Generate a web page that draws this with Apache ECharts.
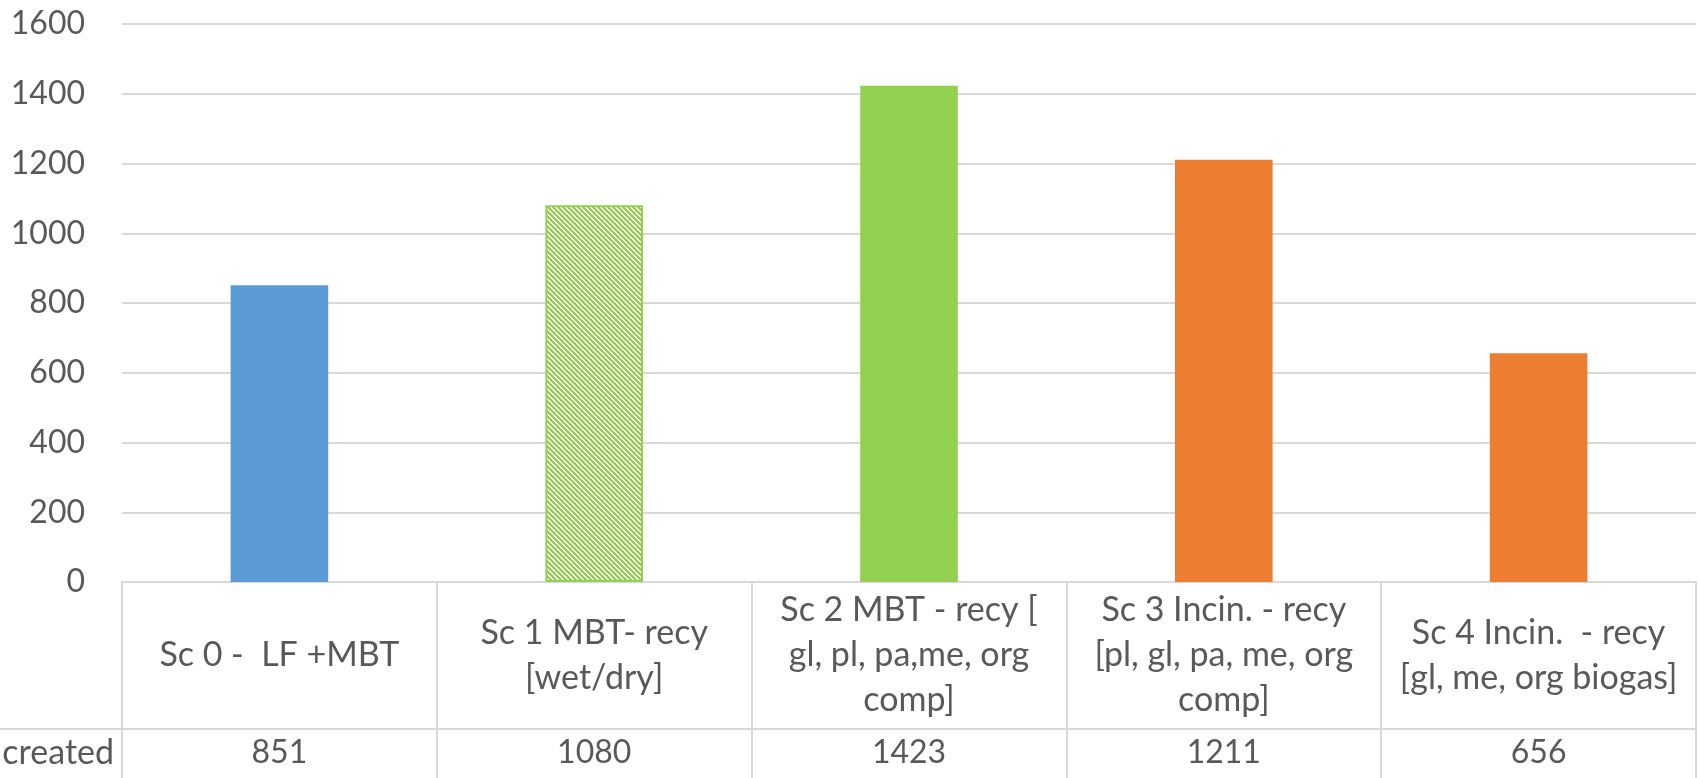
<!DOCTYPE html>
<html>
<head>
<meta charset="utf-8">
<script src="https://cdn.jsdelivr.net/npm/echarts@6/dist/echarts.min.js"></script>
<style>
  html, body { margin: 0; padding: 0; background: #ffffff; }
  #chart { width: 1699px; height: 778px; }
</style>
</head>
<body>
<div id="chart"></div>
<script>
// Scenario names (line breaks as they appear in the data table header)
const categories = [
  'Sc 0 -  LF +MBT',
  'Sc 1 MBT- recy\n[wet/dry]',
  'Sc 2 MBT - recy [\ngl, pl, pa,me, org\ncomp]',
  'Sc 3 Incin. - recy\n[pl, gl, pa, me, org\ncomp]',
  'Sc 4 Incin.  - recy\n[gl, me, org biogas]'
];
const seriesName = 'created';
const values = [851, 1080, 1423, 1211, 656];
const yTicks = [0, 200, 400, 600, 800, 1000, 1200, 1400, 1600];

const TEXT = '#595959';
const LINE = '#d9d9d9';
const FONT = 'Lato';

// Diagonal hatch tile for the "wet/dry" scenario bar
function hatchTile(color) {
  const n = 5;
  const c = document.createElement('canvas');
  c.width = n; c.height = n;
  const ctx = c.getContext('2d');
  ctx.fillStyle = '#ffffff';
  ctx.fillRect(0, 0, n, n);
  ctx.fillStyle = color;
  for (let y = 0; y < n; y++) {
    for (let x = 0; x < n; x++) {
      const d = ((x - y) % n + n) % n;
      if (d <= 2) ctx.fillRect(x, y, 1, 1);
    }
  }
  return c;
}

const BLUE = '#5b9bd5', GREEN = '#92d050', ORANGE = '#ed7d31';
const barStyles = [
  { color: BLUE },
  { color: { image: hatchTile(GREEN), repeat: 'repeat' }, borderColor: GREEN, borderWidth: 2 },
  { color: GREEN },
  { color: ORANGE },
  { color: ORANGE }
];

const chart = echarts.init(document.getElementById('chart'), null, { renderer: 'canvas' });

const gridTop = 24, gridBottom = 196, gridLeft = 122, gridRight = 3;
const headerRow = 147;

chart.setOption({
  animation: false,
  backgroundColor: '#ffffff',
  grid: { left: gridLeft, right: gridRight, top: gridTop, bottom: gridBottom, containLabel: false },
  xAxis: [
    {
      type: 'category',
      data: categories,
      axisLine: { show: true, lineStyle: { color: LINE, width: 2 } },
      axisTick: { show: true, length: gridBottom, lineStyle: { color: LINE, width: 2 } },
      axisLabel: {
        interval: 0,
        margin: headerRow / 2,
        verticalAlign: 'middle',
        align: 'center',
        color: TEXT,
        fontFamily: FONT,
        fontSize: 34,
        lineHeight: 45
      }
    },
    {
      type: 'category',
      data: categories,
      position: 'bottom',
      axisLine: { show: false },
      axisTick: { show: false },
      axisLabel: {
        interval: 0,
        margin: headerRow + 24,
        verticalAlign: 'middle',
        align: 'center',
        color: TEXT,
        fontFamily: FONT,
        fontSize: 32,
        formatter: (v, i) => String(values[i])
      }
    }
  ],
  yAxis: {
    type: 'value',
    min: yTicks[0],
    max: yTicks[yTicks.length - 1],
    interval: yTicks[1] - yTicks[0],
    axisLine: { show: false },
    axisTick: { show: false },
    splitLine: { lineStyle: { color: LINE, width: 2 } },
    axisLabel: {
      color: TEXT, fontFamily: FONT, fontSize: 32, margin: 37,
      formatter: v => String(v)
    }
  },
  series: [{
    name: seriesName,
    type: 'bar',
    barWidth: '31%',
    data: values.map((v, i) => ({ value: v, itemStyle: barStyles[i] }))
  }]
});

// Data-table row divider and row title
const rowY = chart.getHeight() - gridBottom + headerRow;
chart.setOption({
  graphic: [
    {
      type: 'line',
      shape: { x1: 0, y1: rowY, x2: chart.getWidth() - gridRight, y2: rowY },
      style: { stroke: LINE, lineWidth: 2 },
      silent: true
    },
    {
      type: 'text',
      x: gridLeft - 8,
      y: rowY + 24,
      style: {
        text: seriesName,
        fill: TEXT,
        font: '34px ' + FONT,
        textAlign: 'right',
        textVerticalAlign: 'middle'
      }
    }
  ]
});
</script>
</body>
</html>
